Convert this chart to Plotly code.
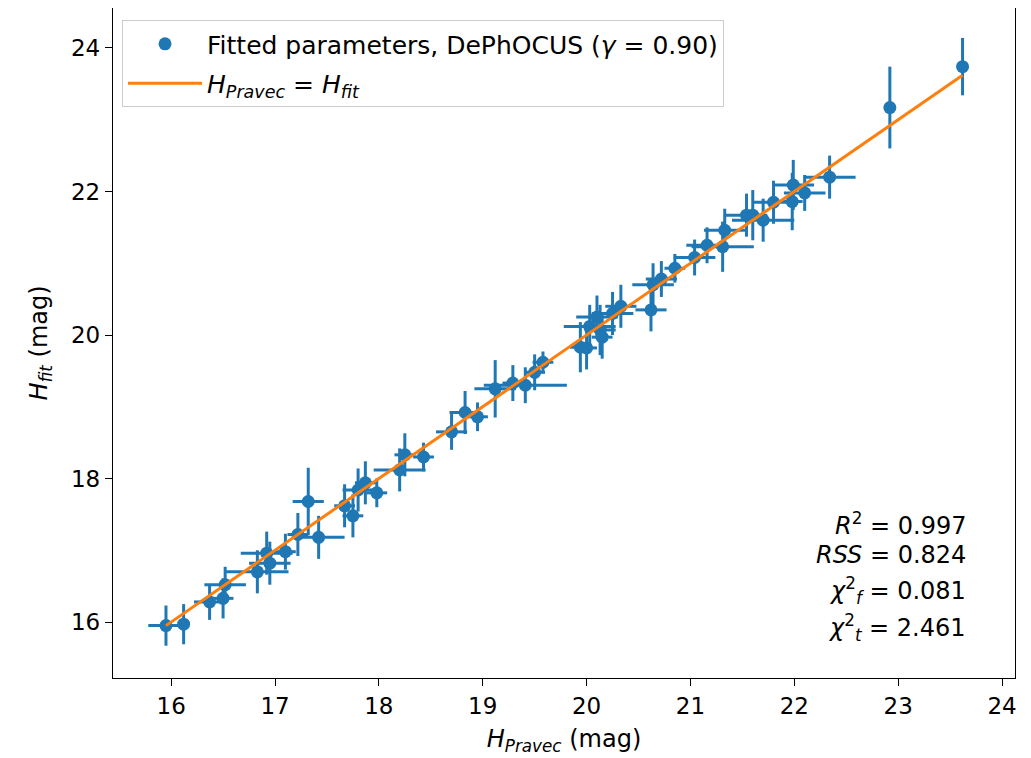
import plotly.graph_objects as go

# Data
h_pravec = [15.95, 16.12, 16.37, 16.50, 16.52, 16.83, 16.92, 16.95, 17.10, 17.22,
            17.32, 17.42, 17.67, 17.75, 17.80, 17.87, 17.98, 18.20, 18.25, 18.43,
            18.70, 18.83, 18.95, 19.12, 19.29, 19.41, 19.50, 19.58, 19.94, 20.00,
            20.03, 20.13, 20.15, 20.10, 20.25, 20.33, 20.62, 20.64, 20.72, 20.85,
            21.04, 21.16, 21.31, 21.33, 21.54, 21.60, 21.70, 21.80, 21.98, 21.99,
            22.10, 22.34, 22.92, 23.62]
h_fit = [15.95, 15.97, 16.28, 16.33, 16.52, 16.70, 16.96, 16.82, 16.98, 17.22,
         17.68, 17.18, 17.62, 17.48, 17.84, 17.94, 17.80, 18.12, 18.33, 18.30,
         18.65, 18.92, 18.86, 19.25, 19.33, 19.30, 19.48, 19.62, 19.83, 19.82,
         20.12, 20.07, 19.97, 20.25, 20.30, 20.40, 20.35, 20.70, 20.78, 20.93,
         21.08, 21.25, 21.23, 21.46, 21.67, 21.67, 21.60, 21.85, 21.86, 22.09,
         21.98, 22.20, 23.17, 23.74]
x_err = [0.17, 0.02, 0.15, 0.10, 0.20, 0.30, 0.25, 0.20, 0.10, 0.10,
         0.15, 0.25, 0.10, 0.10, 0.15, 0.10, 0.10, 0.25, 0.10, 0.10,
         0.15, 0.15, 0.10, 0.20, 0.10, 0.40, 0.10, 0.10, 0.10, 0.10,
         0.25, 0.15, 0.10, 0.20, 0.20, 0.15, 0.15, 0.20, 0.15, 0.10,
         0.20, 0.20, 0.30, 0.20, 0.20, 0.10, 0.30, 0.20, 0.10, 0.20,
         0.20, 0.25, 0.01, 0.03]
y_err = [0.28, 0.28, 0.25, 0.28, 0.25, 0.30, 0.30, 0.30, 0.25, 0.30,
         0.47, 0.30, 0.30, 0.30, 0.30, 0.30, 0.20, 0.30, 0.30, 0.20,
         0.25, 0.30, 0.20, 0.40, 0.25, 0.25, 0.25, 0.15, 0.35, 0.30,
         0.30, 0.35, 0.30, 0.30, 0.30, 0.30, 0.30, 0.30, 0.25, 0.20,
         0.25, 0.25, 0.35, 0.30, 0.30, 0.35, 0.30, 0.30, 0.40, 0.35,
         0.25, 0.30, 0.57, 0.40]
line_x = [min(h_pravec), max(h_pravec)]
x_ticks = [16, 17, 18, 19, 20, 21, 22, 23, 24]
y_ticks = [16, 18, 20, 22, 24]
stats = ["<i>R</i><sup>2</sup> = 0.997",
         "<i>RSS</i> = 0.824",
         "<i>χ</i><sup>2</sup><sub><i>f</i></sub> = 0.081",
         "<i>χ</i><sup>2</sup><sub><i>t</i></sub> = 2.461"]

BLUE = "#1f77b4"
ORANGE = "#ff7f0e"
FONT = "DejaVu Sans"
FS = 24

fig = go.Figure()
fig.add_trace(go.Scatter(
    x=h_pravec, y=h_fit, mode="markers",
    marker=dict(color=BLUE, size=13),
    error_x=dict(type="data", array=x_err, color=BLUE, thickness=3, width=0),
    error_y=dict(type="data", array=y_err, color=BLUE, thickness=3, width=0),
    name="Fitted parameters, DePhOCUS (<i>γ</i> = 0.90)",
    legendgroup="a",
))
fig.add_trace(go.Scatter(
    x=line_x, y=line_x, mode="lines",
    line=dict(color=ORANGE, width=3),
    name="<i>H<sub>Pravec</sub></i> = <i>H<sub>fit</sub></i>",
    legendgroup="b",
))

axis_common = dict(
    showline=True, linecolor="black", linewidth=1.4, mirror=True,
    ticks="outside", ticklen=7, tickwidth=1.4, tickcolor="black",
    showgrid=False, zeroline=False,
    tickfont=dict(family=FONT, size=23, color="black"),
)
fig.update_xaxes(range=[15.44, 24.125], tickvals=x_ticks,
                 title=dict(text="<i>H<sub>Pravec</sub></i> (mag)",
                            font=dict(family=FONT, size=FS, color="black"),
                            standoff=12),
                 **axis_common)
fig.update_yaxes(range=[15.22, 24.557], tickvals=y_ticks,
                 title=dict(text="<i>H<sub>fit</sub></i> (mag)",
                            font=dict(family=FONT, size=FS, color="black"),
                            standoff=16),
                 **axis_common)

ys = [0.230, 0.1836, 0.1313, 0.0761]
for txt, yy in zip(stats, ys):
    fig.add_annotation(text=txt, xref="paper", yref="paper", x=0.948, y=yy,
                       xanchor="right", yanchor="middle", showarrow=False,
                       font=dict(family=FONT, size=FS, color="black"))

fig.update_layout(
    width=1031, height=758,
    margin=dict(l=105, r=24, t=0, b=88),
    paper_bgcolor="white", plot_bgcolor="white",
    font=dict(family=FONT, size=FS, color="black"),
    legend=dict(x=0.01, y=0.982, xanchor="left", yanchor="top",
                bgcolor="rgba(255,255,255,0.8)", bordercolor="#cccccc",
                borderwidth=1, font=dict(family=FONT, size=25),
                itemwidth=74,
                traceorder="grouped", tracegroupgap=4),
    showlegend=True,
)

fig.write_html("out.html")
